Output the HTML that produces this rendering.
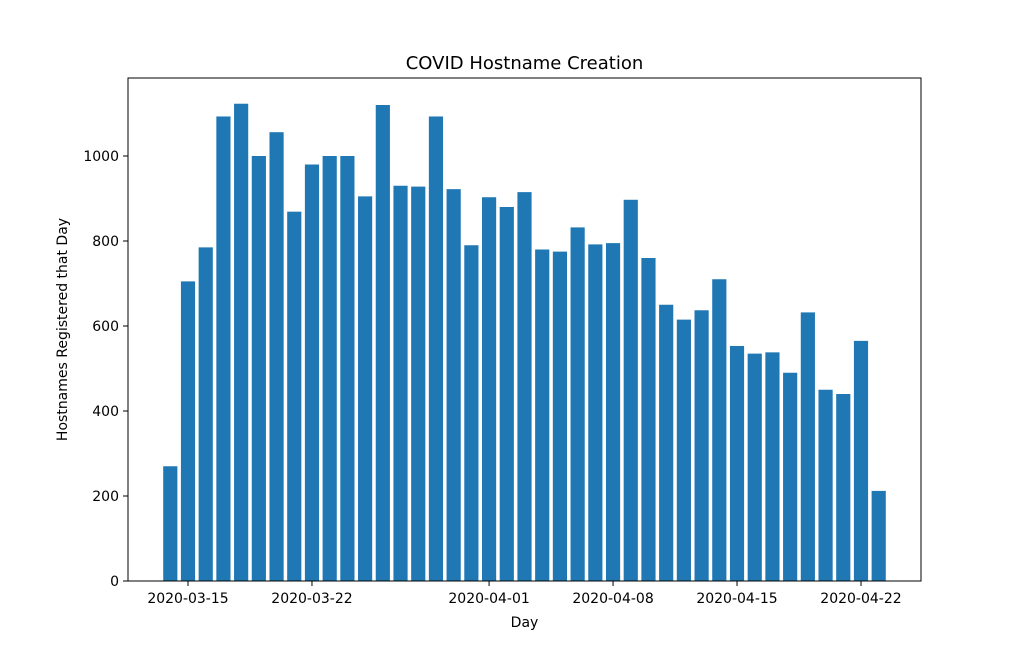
<!DOCTYPE html>
<html><head><meta charset="utf-8"><style>
html,body{margin:0;padding:0;background:#fff;}
svg{display:block;font-family:"DejaVu Sans","Liberation Sans",sans-serif;}
</style></head><body>
<svg id="chart" width="1024" height="653" viewBox="0 0 1024 653" xmlns="http://www.w3.org/2000/svg">
<rect x="0" y="0" width="1024" height="653" fill="#fff"/>
<text x="524.5" y="69" font-size="18" text-anchor="middle" fill="#000">COVID Hostname Creation</text>
<text x="524.5" y="627" font-size="14" text-anchor="middle" fill="#000">Day</text>
<text x="67" y="329.5" font-size="14" text-anchor="middle" fill="#000" transform="rotate(-90 67 329.5)">Hostnames Registered that Day</text>
<g id="bars"></g>
<g id="xticks"></g>
<g id="yticks"></g>
<rect x="128" y="78" width="793" height="503" fill="none" stroke="#000" stroke-width="1"/>
</svg>
<script>
const startDate = "2020-03-14";
const dayLabels = ["03-14","03-15","03-16","03-17","03-18","03-19","03-20","03-21","03-22","03-23","03-24","03-25","03-26","03-27","03-28","03-29","03-30","03-31","04-01","04-02","04-03","04-04","04-05","04-06","04-07","04-08","04-09","04-10","04-11","04-12","04-13","04-14","04-15","04-16","04-17","04-18","04-19","04-20","04-21","04-22","04-23"];
const counts = [270,705,785,1093,1123,1000,1056,869,980,1000,1000,905,1120,930,928,1093,922,790,903,880,915,780,775,832,792,795,897,760,650,615,637,710,553,535,538,490,632,450,440,565,212];
const xTickLabels = ["2020-03-15","2020-03-22","2020-04-01","2020-04-08","2020-04-15","2020-04-22"];
const xTickDays = [1,8,18,25,32,39];
const yTickValues = [0,200,400,600,800,1000];

const NS = "http://www.w3.org/2000/svg";
const plotLeft = 128, plotRight = 921, plotTop = 78, plotBottom = 581;
const yMax = (plotBottom - plotTop) / 0.425;
function xScale(i){ return 170.3 + 17.71 * i; }
function yScale(v){ return plotBottom - (v / yMax) * (plotBottom - plotTop); }
const barW = 17.71 * 0.8;

const bars = document.getElementById('bars');
counts.forEach((v, i) => {
  const r = document.createElementNS(NS, 'rect');
  r.setAttribute('x', xScale(i) - barW / 2);
  r.setAttribute('y', yScale(v));
  r.setAttribute('width', barW);
  r.setAttribute('height', plotBottom - yScale(v));
  r.setAttribute('fill', '#1f77b4');
  
  
  bars.appendChild(r);
});

const xt = document.getElementById('xticks');
xTickLabels.forEach((lab, k) => {
  const x = xScale(xTickDays[k]);
  const l = document.createElementNS(NS, 'line');
  l.setAttribute('x1', x); l.setAttribute('x2', x);
  l.setAttribute('y1', plotBottom); l.setAttribute('y2', plotBottom + 5);
  l.setAttribute('stroke', '#000');
  
  
  xt.appendChild(l);
  const t = document.createElementNS(NS, 'text');
  t.setAttribute('x', x); t.setAttribute('y', plotBottom + 22);
  t.setAttribute('font-size', '14'); t.setAttribute('text-anchor', 'middle');
  t.textContent = lab;
  
  
  xt.appendChild(t);
});

const yt = document.getElementById('yticks');
yTickValues.forEach(v => {
  const y = yScale(v);
  const l = document.createElementNS(NS, 'line');
  l.setAttribute('x1', plotLeft - 5); l.setAttribute('x2', plotLeft);
  l.setAttribute('y1', y); l.setAttribute('y2', y);
  l.setAttribute('stroke', '#000');
  
  
  yt.appendChild(l);
  const t = document.createElementNS(NS, 'text');
  t.setAttribute('x', plotLeft - 9); t.setAttribute('y', y + 5);
  t.setAttribute('font-size', '14'); t.setAttribute('text-anchor', 'end');
  t.textContent = String(v);
  
  
  yt.appendChild(t);
});
</script>
</body></html>
